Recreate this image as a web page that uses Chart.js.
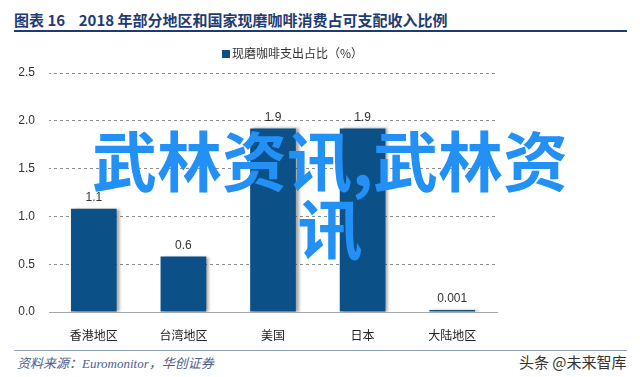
<!DOCTYPE html>
<html>
<head>
<meta charset="utf-8">
<script src="https://cdn.jsdelivr.net/npm/chart.js@4.4.0/dist/chart.umd.min.js"></script>
<style>
  body { margin: 0; width: 640px; height: 377px; background: #fff; position: relative; overflow: hidden; font-family: "Noto Sans CJK SC", sans-serif; }
  #titulo { position: absolute; left: 14px; top: 9px; font-size: 15px; font-weight: bold; color: #1f3b73; white-space: nowrap; }
  #linea1 { position: absolute; left: 14px; top: 30px; width: 613px; height: 2px; background: #1f3b73; }
  #linea2 { position: absolute; left: 14px; top: 350px; width: 613px; height: 1px; background: #8d9fc2; }
  #fuente { position: absolute; left: 17px; top: 353px; font-size: 13px; font-style: italic; color: #4b5e92; font-family: "Liberation Serif", "Noto Sans CJK SC", serif; }
  #marca { position: absolute; left: 519px; top: 351px; font-size: 15px; color: #333; }
  #leyenda { position: absolute; left: 222px; top: 44px; font-size: 12px; color: #333; white-space: nowrap; }
  #leyenda span { display: inline-block; width: 8px; height: 8px; background: #0b5187; margin-right: 2px; }
  #grafico { position: absolute; left: 0; top: 40px; }
  #agua { position: absolute; left: 60px; top: 124px; width: 540px; text-align: center; font-size: 65px; line-height: 68px; font-weight: bold; color: #2290f5; z-index: 5; }
</style>
</head>
<body>
<div id="titulo">图表 16&nbsp;&nbsp;&nbsp;&nbsp;2018 年部分地区和国家现磨咖啡消费占可支配收入比例</div>
<div id="linea1"></div>
<canvas id="grafico" width="578" height="305"></canvas>
<div id="leyenda"><span></span><b id="serie" style="font-weight:normal"></b></div>
<div id="agua">武林资讯,武林资<br>讯</div>
<div id="linea2"></div>
<div id="fuente">资料来源：Euromonitor，华创证券</div>
<div id="marca">头条 @未来智库</div>
<script>
// datos
let regiones = ["香港地区", "台湾地区", "美国", "日本", "大陆地区"];
let valores = [1.08, 0.58, 1.92, 1.92, 0.001];
let etiquetas = ["1.1", "0.6", "1.9", "1.9", "0.001"];
let nombreSerie = "现磨咖啡支出占比（%）";
let ticksY = [0, 0.5, 1.0, 1.5, 2.0, 2.5];

document.getElementById("serie").textContent = nombreSerie; // leyenda en html

// patron de trazos para las lineas de la grilla (linea punteada)
const trazo = document.createElement("canvas");
trazo.width = 6;
trazo.height = 4;
const tctx = trazo.getContext("2d");
tctx.fillStyle = "#8c8c8c";
tctx.fillRect(0, 0, 3, 4);
const patronGrilla = document.getElementById("grafico").getContext("2d").createPattern(trazo, "repeat");

// sombra de las barras y los valores encima
const pluginBarras = {
    id: "pluginBarras",
    beforeDatasetsDraw(chart) {
        const ctx = chart.ctx;
        ctx.save();
        ctx.shadowColor = "rgba(0,0,0,0.35)";
        ctx.shadowOffsetX = 3;
        ctx.shadowOffsetY = 0;
        ctx.shadowBlur = 3;
    },
    afterDatasetsDraw(chart) {
        const ctx = chart.ctx;
        ctx.restore();
        ctx.save();
        ctx.font = "12px 'Liberation Sans', Arial";
        ctx.fillStyle = "#333";
        ctx.textAlign = "center";
        ctx.textBaseline = "bottom";
        chart.getDatasetMeta(0).data.forEach((bar, i) => {
            ctx.fillText(etiquetas[i], bar.x, bar.y - 5);
        });
        ctx.restore();
    }
};

new Chart(document.getElementById("grafico"), {
    type: "bar",
    data: {
        labels: regiones,
        datasets: [{
            label: nombreSerie,
            data: valores,
            backgroundColor: "#0b5187",
            categoryPercentage: 1.0,
            barPercentage: 0.51,
            minBarLength: 2
        }]
    },
    options: {
        responsive: false,
        animation: false,
        layout: { padding: { left: 0, right: 81, top: 33, bottom: 0 } },
        plugins: {
            legend: { display: false },
            tooltip: { enabled: false }
        },
        scales: {
            x: {
                grid: { display: false },
                border: { display: true, color: "#a6a6a6", width: 1 },
                ticks: { color: "#222", padding: 8, font: { size: 12, family: "Noto Sans CJK SC" } },
                afterFit(scale) { scale.height = 33; }
            },
            y: {
                min: 0,
                max: 2.5,
                afterBuildTicks(scale) { scale.ticks = ticksY.map(v => ({ value: v })); },
                grid: { color: patronGrilla, drawTicks: false, lineWidth: 1 },
                border: { display: false },
                ticks: {
                    color: "#333",
                    padding: 14,
                    font: { size: 12, family: "'Liberation Sans', Arial" },
                    callback: v => Number(v).toFixed(1)
                },
                afterFit(scale) { scale.width = 49; }
            }
        }
    },
    plugins: [pluginBarras]
});
</script>
</body>
</html>
